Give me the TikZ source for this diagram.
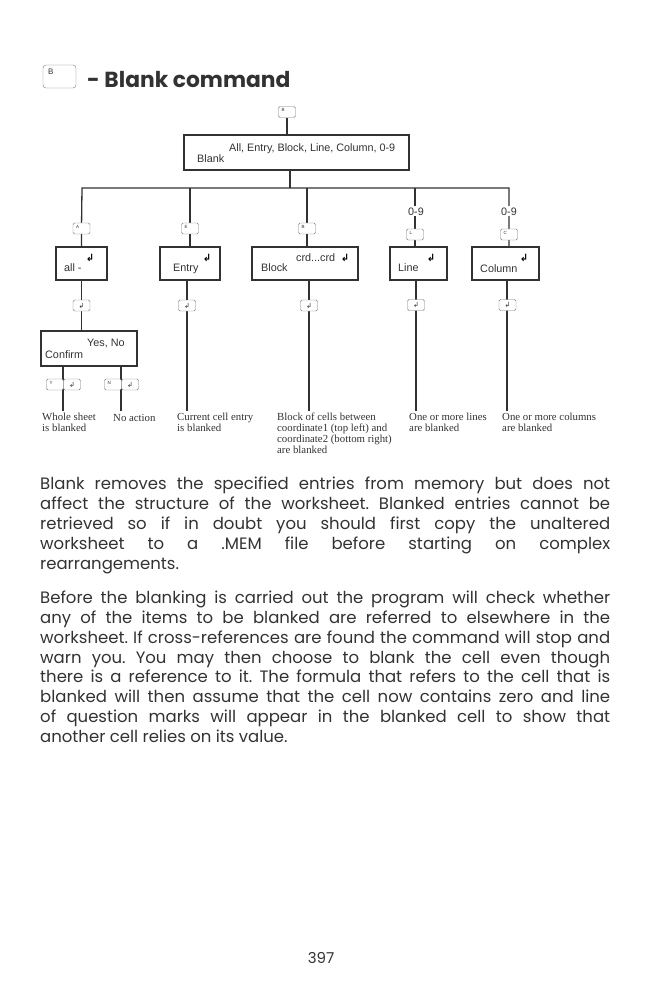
\documentclass[tikz,border=0pt]{standalone}
\usepackage{fontspec}
\setmainfont{Poppins}
\newfontfamily\serifface{Liberation Serif}
\newfontfamily\boxface{Liberation Sans}
\newfontfamily\retface{DejaVu Sans}
\usetikzlibrary{backgrounds}
\definecolor{inkgray}{RGB}{50,50,50}
\definecolor{keygray}{RGB}{120,120,120}
\frenchspacing
\tikzset{
    % Boxes and connectors
    cmdbox/.style={
        rectangle, draw=inkgray, line width=1.4pt, fill=white,
        inner sep=0pt
    },
    wire/.style={draw=inkgray, line width=1.3pt},
    % Key caps
    keycap/.style={
        rectangle, draw=keygray, line width=0.4pt, fill=white,
        minimum width=17pt, minimum height=11pt, inner sep=0pt,
        rounded corners=1.5pt, text=inkgray, font=\retface\fontsize{7}{7}\selectfont
    },
    keytext/.style={
        anchor=north west, inner sep=0pt, xshift=3pt, yshift=-2pt,
        text=inkgray, font=\boxface\fontsize{4.5}{4.5}\selectfont
    },
    % Texts
    boxtext/.style={anchor=base west, inner sep=0pt, text=inkgray, font=\boxface\fontsize{10.8}{10.8}\selectfont},
    rettext/.style={anchor=base, inner sep=0pt, text=black, font=\retface\bfseries\fontsize{10}{10}\selectfont},
    result/.style={anchor=north west, inner sep=0pt, align=left, text=inkgray, font=\serifface\fontsize{10.8}{11}\selectfont},
    bodytext/.style={anchor=north west, inner sep=0pt, text width=570pt, align=justify, text=inkgray, font=\fontsize{16.5}{19.9}\selectfont}
}
\begin{document}
\begin{tikzpicture}[x=1pt,y=-1pt]
\useasboundingbox (0,0) rectangle (650,992);

% Heading
\node[keycap, minimum width=33pt, minimum height=23pt, rounded corners=3pt, label={[keytext, xshift=2pt, yshift=-2pt, font=\boxface\fontsize{8}{8}\selectfont]north west:B}] (keytitle) at (59.5,76.5) {};
\node[anchor=base west, inner sep=0pt, text=inkgray, font=\bfseries\fontsize{21.8}{24}\selectfont] (title) at (87,88) {- Blank command};

% Blank box
\node[keycap, label={[keytext]north west:B}] (keytop) at (287,112) {};
\node[cmdbox, minimum width=225pt, minimum height=35pt] (blank) at (296.5,152.5) {};
\node[boxtext] (blankopts) at (229,152) {All, Entry, Block, Line, Column, 0-9};
\node[boxtext] (blanklbl) at (197,163) {Blank};
\coordinate (busleft) at (82,188);
\coordinate (busmid) at (290,188);
\coordinate (busright) at (509,188);

% First level boxes
\node[cmdbox, minimum width=51pt, minimum height=33pt] (all) at (81.5,263.5) {};
\node[boxtext] (alllbl) at (64,271) {all -};
\node[rettext] (allret) at (90,261) {↲};
\node[cmdbox, minimum width=60pt, minimum height=33pt] (entry) at (190,263.5) {};
\node[boxtext] (entrylbl) at (173,271) {Entry};
\node[rettext] (entryret) at (207,261) {↲};
\node[cmdbox, minimum width=106pt, minimum height=33pt] (block) at (305,263.5) {};
\node[boxtext] (blocklbl) at (261,271) {Block};
\node[boxtext] (blockopts) at (296,261) {crd...crd};
\node[rettext] (blockret) at (345,261) {↲};
\node[cmdbox, minimum width=57pt, minimum height=33pt] (line) at (418.5,263.5) {};
\node[boxtext] (linelbl) at (398,271) {Line};
\node[rettext] (lineret) at (431,261) {↲};
\node[cmdbox, minimum width=67pt, minimum height=33pt] (column) at (505.5,263.5) {};
\node[boxtext] (columnlbl) at (480,272) {Column};
\node[rettext] (columnret) at (524,261) {↲};

% Keys above the boxes
\node[keycap, label={[keytext]north west:A}] (keyall) at (81.5,228.5) {};
\node[keycap, label={[keytext]north west:E}] (keyentry) at (190,228.5) {};
\node[keycap, label={[keytext]north west:B}] (keyblock) at (307,228.5) {};
\node[boxtext, fill=white, inner ysep=1pt] (digitsline) at (408,215) {0-9};
\node[boxtext, fill=white, inner ysep=1pt] (digitscolumn) at (501,215) {0-9};
\node[keycap, label={[keytext]north west:L}] (keyline) at (415,234.5) {};
\node[keycap, label={[keytext]north west:C}] (keycolumn) at (509,234.5) {};

% Keys below the boxes
\node[keycap] (retall) at (81.5,305.5) {↲};
\node[keycap] (retentry) at (187,305.5) {↲};
\node[keycap] (retblock) at (309,305.5) {↲};
\node[keycap] (retline) at (416,305) {↲};
\node[keycap] (retcolumn) at (507.5,305) {↲};

% Confirm box
\node[cmdbox, minimum width=96pt, minimum height=35pt] (confirm) at (89,348.5) {};
\node[boxtext] (confirmopts) at (87,346) {Yes, No};
\node[boxtext] (confirmlbl) at (45,358) {Confirm};
\node[keycap, label={[keytext]north west:Y}] (keyyes) at (55,384.5) {};
\node[keycap] (retyes) at (72,384.5) {↲};
\node[keycap, label={[keytext]north west:N}] (keyno) at (113,384.5) {};
\node[keycap] (retno) at (130,384.5) {↲};

% Results
\coordinate (endyes) at (63,411);
\coordinate (endno) at (121,411);
\coordinate (endentry) at (187,411);
\coordinate (endblock) at (309,411);
\coordinate (endline) at (416,411);
\coordinate (endcolumn) at (507,411);
\node[result] (whole) at (42,413) {Whole sheet\\is blanked};
\node[result, anchor=base west] (noaction) at (113,421) {No action};
\node[result] (current) at (177,413) {Current cell entry\\is blanked};
\node[result] (cells) at (277,413) {Block of cells between\\coordinate1 (top left) and\\coordinate2 (bottom right)\\are blanked};
\node[result] (lines) at (409,413) {One or more lines\\are blanked};
\node[result] (columns) at (502,413) {One or more columns\\are blanked};

% Connectors
\begin{scope}[on background layer]
\draw[wire] (keytop) -- (keytop |- blank.north);
\draw[wire] (busmid |- blank.south) -- (busmid);
\draw[wire] (all.north -| keyall) -- (keyall) -- (busleft) -- (busright) -- (busright |- column.north);
\draw[wire] (entry.north -| keyentry) -- (keyentry) -- (keyentry |- busleft);
\draw[wire] (block.north -| keyblock) -- (keyblock) -- (keyblock |- busleft);
\draw[wire] (line.north -| keyline) -- (keyline) -- (keyline |- busleft);
\draw[wire] (all.south -| retall) -- (retall) -- (retall |- confirm.north);
\draw[wire] (confirm.south -| endyes) -- (endyes);
\draw[wire] (confirm.south -| endno) -- (endno);
\draw[wire] (entry.south -| endentry) -- (endentry);
\draw[wire] (block.south -| endblock) -- (endblock);
\draw[wire] (line.south -| endline) -- (endline);
\draw[wire] (column.south -| endcolumn) -- (endcolumn);
\end{scope}

% Body text
\node[bodytext] (para1) at (40,477) {Blank removes the specified entries from memory but does not\linebreak affect the structure of the worksheet. Blanked entries cannot be\linebreak retrieved so if in doubt you should first copy the unaltered\linebreak worksheet to a .MEM file before starting on complex\linebreak rearrangements.};
\node[bodytext] (para2) at (40,590.5) {Before the blanking is carried out the program will check whether\linebreak any of the items to be blanked are referred to elsewhere in the\linebreak worksheet. If cross-references are found the command will stop and\linebreak warn you. You may then choose to blank the cell even though\linebreak there is a reference to it. The formula that refers to the cell that is\linebreak blanked will then assume that the cell now contains zero and line\linebreak of question marks will appear in the blanked cell to show that\linebreak another cell relies on its value.};
\node[anchor=base, inner sep=0pt, text=inkgray, font=\fontsize{15}{16}\selectfont] (pagenum) at (321,963) {397};

\end{tikzpicture}
\end{document}
